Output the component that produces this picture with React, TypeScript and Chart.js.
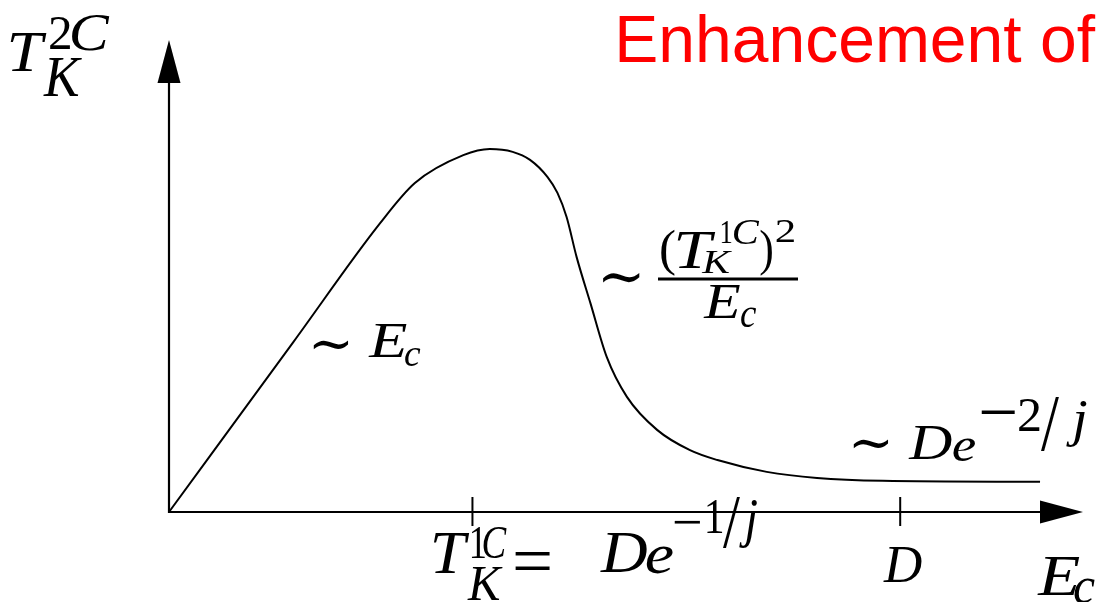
import { useEffect, useRef } from "react";
import { Chart, registerables } from "chart.js";

Chart.register(...registerables);

// Schematic curve of the two-channel Kondo temperature versus E_c (arbitrary units)
const curveX = [0, 1.36, 2.31, 2.69, 3.22, 3.51, 3.76, 3.95, 4.14, 4.25, 4.35, 4.46, 4.61, 4.79, 5.01, 5.34, 5.7, 6.0, 6.54, 7.09, 7.81, 9.53];
const curveY = [0, 3.6, 6.12, 6.97, 7.56, 7.69, 7.63, 7.46, 7.1, 6.76, 6.25, 5.4, 4.43, 3.28, 2.44, 1.74, 1.31, 1.1, 0.85, 0.72, 0.66, 0.64];

// Marked positions on the E_c axis: T_K^{1C} and D
const tickValues = [3.32, 8.0];

const X_MAX = 10;
const Y_MAX = 10;

const SERIF = "'Liberation Serif', 'DejaVu Serif', serif";
const SANS = "'Liberation Sans', Arial, sans-serif";

// A glyph run placed in its ink box [x0, y0, x1, y1].
// fit "box": height sets the size, width stretches slightly; "w": width sets the size, centred vertically.
type Run = { t: string; box: [number, number, number, number]; italic?: boolean; fit?: "box" | "w" };

const yAxisLabel: Run[] = [
  { t: "T", box: [10, 33, 47, 70], italic: true },
  { t: "2", box: [50, 17, 70, 50] },
  { t: "C", box: [71, 15, 110, 51], italic: true },
  { t: "K", box: [43, 58, 82, 95], italic: true },
];

const linearLabel: Run[] = [
  { t: "\u223C", box: [313, 339, 348, 351], fit: "w" },
  { t: "E", box: [368, 324, 407, 357], italic: true },
  { t: "c", box: [405, 348, 421, 366], italic: true },
];

const fractionLabel: Run[] = [
  { t: "\u223C", box: [603, 271, 640, 284], fit: "w" },
  { t: "(", box: [661, 229, 675, 276] },
  { t: "T", box: [677, 232, 717, 268], italic: true },
  { t: "1", box: [721, 221, 731, 243] },
  { t: "C", box: [734, 220, 760, 244], italic: true },
  { t: "K", box: [701, 251, 733, 273], italic: true },
  { t: ")", box: [760, 229, 772, 276] },
  { t: "2", box: [776, 220, 795, 243] },
  { t: "E", box: [703, 285, 740, 318], italic: true },
  { t: "c", box: [741, 307, 757, 327], italic: true },
];

const tailLabel: Run[] = [
  { t: "\u223C", box: [853, 437, 888, 450], fit: "w" },
  { t: "D", box: [908, 426, 952, 460], italic: true },
  { t: "e", box: [953, 438, 976, 461], italic: true },
  { t: "\u2212", box: [981, 411, 1015, 414], fit: "w" },
  { t: "2", box: [1019, 399, 1040, 431] },
  { t: "/", box: [1041, 397, 1057, 451] },
  { t: "j", box: [1066, 401, 1087, 447], italic: true },
];

const tickLabelT: Run[] = [
  { t: "T", box: [433, 533, 470, 573], italic: true },
  { t: "1", box: [472, 527, 481, 557] },
  { t: "C", box: [483, 527, 507, 558], italic: true },
  { t: "K", box: [467, 567, 503, 600], italic: true },
  { t: "=", box: [515, 554, 550, 567], fit: "w" },
  { t: "D", box: [600, 533, 647, 572], italic: true },
  { t: "e", box: [646, 546, 673, 573], italic: true },
  { t: "\u2212", box: [674, 520, 700, 523], fit: "w" },
  { t: "1", box: [707, 500, 722, 533] },
  { t: "/", box: [723, 497, 740, 548] },
  { t: "j", box: [739, 500, 757, 547], italic: true },
];

const tickLabelD: Run[] = [{ t: "D", box: [883, 547, 922, 582], italic: true }];

const xAxisLabel: Run[] = [
  { t: "E", box: [1037, 557, 1080, 594], italic: true },
  { t: "c", box: [1074, 578, 1095, 603], italic: true },
];

const titleText = "Enhancement of";

const drawRuns = (ctx: CanvasRenderingContext2D, runs: Run[]) => {
  ctx.fillStyle = "#000";
  ctx.textAlign = "left";
  ctx.textBaseline = "alphabetic";
  for (const r of runs) {
    const [x0, y0, x1, y1] = r.box;
    const style = r.italic ? "italic " : "";
    ctx.font = `${style}100px ${SERIF}`;
    const m0 = ctx.measureText(r.t);
    const w0 = Math.max(m0.actualBoundingBoxLeft + m0.actualBoundingBoxRight, 1);
    const h0 = Math.max(m0.actualBoundingBoxAscent + m0.actualBoundingBoxDescent, 1);
    if (r.fit === "w") {
      const size = (100 * (x1 - x0)) / w0;
      ctx.font = `${style}${size.toFixed(2)}px ${SERIF}`;
      const m = ctx.measureText(r.t);
      const h = m.actualBoundingBoxAscent + m.actualBoundingBoxDescent;
      const top = (y0 + y1) / 2 - h / 2;
      ctx.fillText(r.t, x0 + m.actualBoundingBoxLeft, top + m.actualBoundingBoxAscent);
      continue;
    }
    const size = (100 * (y1 - y0)) / h0;
    ctx.font = `${style}${size.toFixed(2)}px ${SERIF}`;
    const m = ctx.measureText(r.t);
    const w = Math.max(m.actualBoundingBoxLeft + m.actualBoundingBoxRight, 1);
    const sx = Math.min(1.25, Math.max(0.8, (x1 - x0) / w));
    ctx.save();
    ctx.translate(x0, y0);
    ctx.scale(sx, 1);
    ctx.fillText(r.t, m.actualBoundingBoxLeft, m.actualBoundingBoxAscent);
    ctx.restore();
  }
};

const axesPlugin = {
  id: "schematicAxes",
  beforeDatasetsDraw(chart: Chart) {
    const { ctx, chartArea, scales } = chart;
    const x0 = scales.x.getPixelForValue(0);
    const y0 = scales.y.getPixelForValue(0);
    const arrowLen = 43;
    const arrowHalf = 11.5;
    ctx.save();
    ctx.strokeStyle = "#000";
    ctx.fillStyle = "#000";
    ctx.lineWidth = 2.2;
    // horizontal axis
    ctx.beginPath();
    ctx.moveTo(x0, y0);
    ctx.lineTo(chartArea.right - arrowLen + 2, y0);
    ctx.stroke();
    ctx.beginPath();
    ctx.moveTo(chartArea.right, y0);
    ctx.lineTo(chartArea.right - arrowLen, y0 - arrowHalf);
    ctx.lineTo(chartArea.right - arrowLen, y0 + arrowHalf);
    ctx.closePath();
    ctx.fill();
    // vertical axis
    ctx.beginPath();
    ctx.moveTo(x0, y0 + 1);
    ctx.lineTo(x0, chartArea.top + arrowLen - 2);
    ctx.stroke();
    ctx.beginPath();
    ctx.moveTo(x0, chartArea.top);
    ctx.lineTo(x0 - arrowHalf, chartArea.top + arrowLen);
    ctx.lineTo(x0 + arrowHalf, chartArea.top + arrowLen);
    ctx.closePath();
    ctx.fill();
    // tick marks
    ctx.lineWidth = 2;
    for (const v of tickValues) {
      const px = scales.x.getPixelForValue(v);
      ctx.beginPath();
      ctx.moveTo(px, y0 - 15);
      ctx.lineTo(px, y0 + 14);
      ctx.stroke();
    }
    ctx.restore();
  },
  afterDraw(chart: Chart) {
    const { ctx } = chart;
    ctx.save();
    drawRuns(ctx, yAxisLabel);
    drawRuns(ctx, linearLabel);
    drawRuns(ctx, fractionLabel);
    drawRuns(ctx, tailLabel);
    drawRuns(ctx, tickLabelT);
    drawRuns(ctx, tickLabelD);
    drawRuns(ctx, xAxisLabel);
    // fraction bar
    ctx.strokeStyle = "#000";
    ctx.lineWidth = 3;
    ctx.beginPath();
    ctx.moveTo(658, 279);
    ctx.lineTo(798, 279);
    ctx.stroke();
    // red heading
    ctx.fillStyle = "#ff0000";
    ctx.font = `66px ${SANS}`;
    ctx.textAlign = "right";
    ctx.textBaseline = "alphabetic";
    ctx.fillText(titleText, 1095, 62);
    ctx.restore();
  },
};

export default function App() {
  const canvasRef = useRef<HTMLCanvasElement | null>(null);

  useEffect(() => {
    document.body.style.margin = "0";
    const canvas = canvasRef.current;
    if (!canvas) return;
    const chart = new Chart(canvas, {
      type: "line",
      data: {
        datasets: [
          {
            data: curveX.map((x, i) => ({ x, y: curveY[i] })),
            borderColor: "#000",
            borderWidth: 2,
            pointRadius: 0,
            fill: false,
            cubicInterpolationMode: "monotone",
            clip: false,
          },
        ],
      },
      options: {
        animation: false,
        responsive: false,
        devicePixelRatio: 1,
        layout: { padding: { left: 169, right: 15, top: 40, bottom: 90 } },
        scales: {
          x: { type: "linear", min: 0, max: X_MAX, display: false },
          y: { type: "linear", min: 0, max: Y_MAX, display: false },
        },
        plugins: { legend: { display: false }, tooltip: { enabled: false }, title: { display: false } },
      },
      plugins: [axesPlugin],
    });
    return () => chart.destroy();
  }, []);

  return (
    <div style={{ width: 1098, height: 602, background: "#fff" }}>
      <canvas ref={canvasRef} width={1098} height={602} style={{ display: "block" }} />
    </div>
  );
}
